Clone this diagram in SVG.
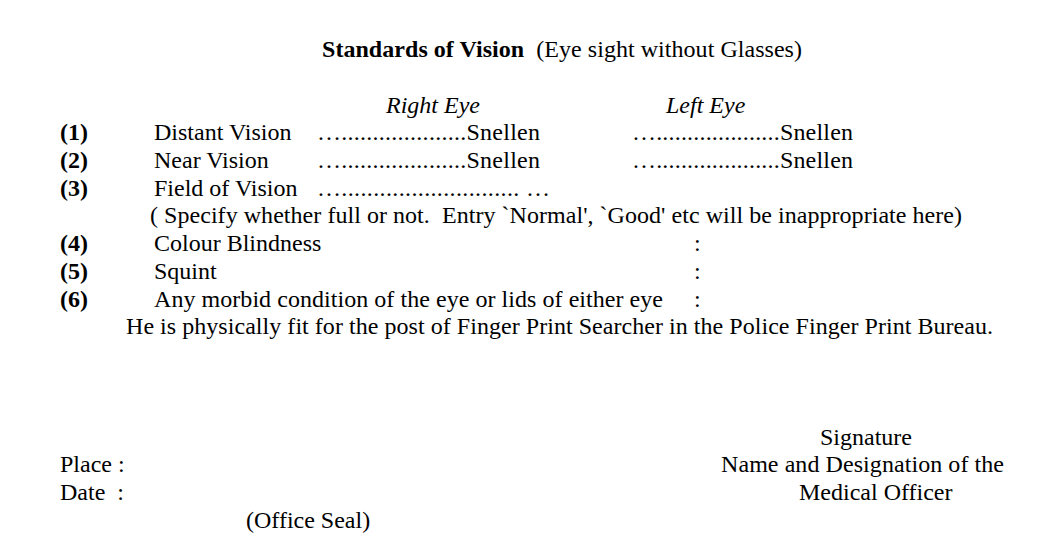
<svg xmlns="http://www.w3.org/2000/svg" width="1051" height="541" viewBox="0 0 1051 541">
<style>
text{font-family:"Liberation Serif",serif;font-size:24px;fill:#000;white-space:pre}
.b{font-weight:bold}
.i{font-style:italic}
</style>
<rect width="1051" height="541" fill="#fff"/>
<g id="title"><text x="322" y="57" textLength="480"><tspan class="b">Standards of Vision</tspan>  (Eye sight without Glasses)</text></g>
<g id="headers"><text class="i" x="386" y="113">Right Eye</text><text class="i" x="666" y="113">Left Eye</text></g>
<g id="rows">
<text class="b" x="60" y="140">(1)</text><text x="154" y="140">Distant Vision</text><text x="317" y="140" textLength="223">…....................Snellen</text><text x="632" y="140" textLength="221">…....................Snellen</text>
<text class="b" x="60" y="168">(2)</text><text x="154" y="168">Near Vision</text><text x="317" y="168" textLength="223">…....................Snellen</text><text x="632" y="168" textLength="221">…....................Snellen</text>
<text class="b" x="60" y="196">(3)</text><text x="154" y="196">Field of Vision</text><text x="317" y="196" textLength="233">…............................ …</text>
<text x="150" y="223" textLength="812">( Specify whether full or not.  Entry `Normal', `Good' etc will be inappropriate here)</text>
<text class="b" x="60" y="251">(4)</text><text x="154" y="251">Colour Blindness</text><text x="694" y="251">:</text>
<text class="b" x="60" y="279">(5)</text><text x="154" y="279">Squint</text><text x="694" y="279">:</text>
<text class="b" x="60" y="307">(6)</text><text x="154" y="307" textLength="509">Any morbid condition of the eye or lids of either eye</text><text x="694" y="307">:</text>
<text x="126" y="334" textLength="867">He is physically fit for the post of Finger Print Searcher in the Police Finger Print Bureau.</text>
</g>
<g id="footer">
<text x="820" y="445">Signature</text>
<text x="60" y="472">Place :</text>
<text x="721" y="472" textLength="283">Name and Designation of the</text>
<text x="60" y="500">Date  :</text>
<text x="799" y="500">Medical Officer</text>
<text x="246" y="528">(Office Seal)</text>
</g>
</svg>
